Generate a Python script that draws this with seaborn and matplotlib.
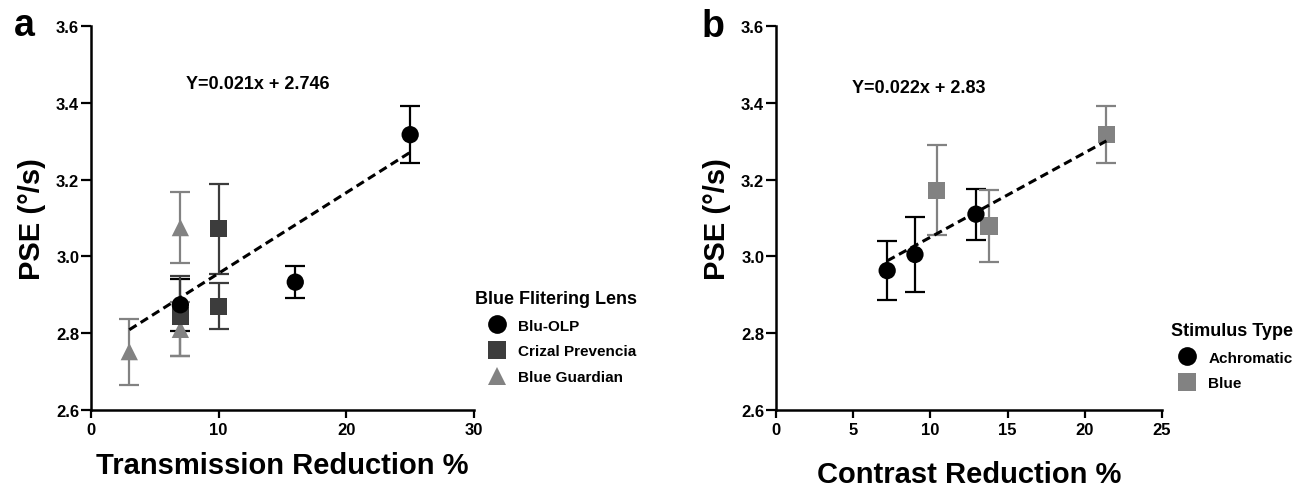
import numpy as np
import pandas as pd
import matplotlib
matplotlib.use("Agg")
import matplotlib.pyplot as plt
import seaborn as sns

# ---- panel a: transmission reduction by lens ----
olp_x = [7, 16, 25]
olp_y = [2.874, 2.933, 3.317]
olp_err = [0.068, 0.042, 0.074]

crizal_x = [7, 10, 10]
crizal_y = [2.845, 3.072, 2.870]
crizal_err = [0.105, 0.117, 0.060]

guardian_x = [3, 7, 7]
guardian_y = [2.752, 3.075, 2.810]
guardian_err = [0.086, 0.093, 0.070]

lens_names = ["Blu-OLP", "Crizal Prevencia", "Blue Guardian"]
fit_a = (0.021, 2.746)

# ---- panel b: contrast reduction by stimulus ----
achro_x = [7.2, 9.0, 12.95]
achro_y = [2.963, 3.005, 3.110]
achro_err = [0.077, 0.098, 0.066]

blue_x = [10.4, 13.8, 21.4]
blue_y = [3.172, 3.079, 3.317]
blue_err = [0.117, 0.093, 0.075]

stim_names = ["Achromatic", "Blue"]
fit_b = (0.022, 2.83)

y_ticks = [2.6, 2.8, 3.0, 3.2, 3.4, 3.6]


def make_df(groups, names):
    rows = []
    for (xs, ys, es), name in zip(groups, names):
        for x, y, e in zip(xs, ys, es):
            rows.append({"x": x, "y": y, "err": e, "group": name})
    return pd.DataFrame(rows)


df_a = make_df([(guardian_x, guardian_y, guardian_err),
                (crizal_x, crizal_y, crizal_err),
                (olp_x, olp_y, olp_err)],
               ["Blue Guardian", "Crizal Prevencia", "Blu-OLP"])
df_b = make_df([(blue_x, blue_y, blue_err),
                (achro_x, achro_y, achro_err)],
               ["Blue", "Achromatic"])

sns.set_style("ticks")
plt.rcParams["font.family"] = ["Liberation Sans", "DejaVu Sans"]
plt.rcParams["font.weight"] = "bold"
plt.rcParams["text.color"] = "black"
plt.rcParams["axes.labelcolor"] = "black"
plt.rcParams["xtick.color"] = "black"
plt.rcParams["ytick.color"] = "black"

colors_a = {"Blu-OLP": "#000000", "Crizal Prevencia": "#3c3c3c", "Blue Guardian": "#828282"}
markers_a = {"Blu-OLP": "o", "Crizal Prevencia": "s", "Blue Guardian": "^"}
colors_b = {"Achromatic": "#000000", "Blue": "#828282"}
markers_b = {"Achromatic": "o", "Blue": "s"}

fig = plt.figure(figsize=(13.09, 4.89), dpi=100)
ax_a = fig.add_axes([91 / 1309, 1 - 411 / 489, 383 / 1309, 384 / 489])
ax_b = fig.add_axes([776 / 1309, 1 - 411 / 489, 386 / 1309, 384 / 489])


def draw_panel(ax, df, colors, markers, order, fit, xlim, xticks, xlabel,
               eq_pos, leg_pos, leg_title, xpad):
    for name in order:
        sub = df[df["group"] == name]
        ax.errorbar(sub["x"], sub["y"], yerr=sub["err"], fmt="none",
                    ecolor=colors[name], elinewidth=1.6, capsize=7,
                    capthick=1.6, zorder=2)
    sns.scatterplot(data=df, x="x", y="y", hue="group", style="group",
                    hue_order=order, style_order=order, palette=colors,
                    markers=markers, s=155, linewidth=0, ax=ax, zorder=3)
    fx = np.array([df["x"].min(), df["x"].max()])
    sns.lineplot(x=fx, y=fit[0] * fx + fit[1], ax=ax, color="black",
                 linewidth=2.2, dashes=False, zorder=4)
    ax.lines[-1].set_dashes((2.8, 1.6))

    ax.set_xlim(*xlim)
    ax.set_ylim(2.6, 3.6)
    ax.set_xticks(xticks)
    ax.set_yticks(y_ticks)
    ax.set_yticklabels([f"{t:.1f}" for t in y_ticks])
    ax.tick_params(labelsize=12, width=1.6, color="black")
    ax.tick_params(axis="y", length=7.5, pad=1)
    ax.tick_params(axis="x", length=5.5, pad=3)
    for lab in ax.get_xticklabels() + ax.get_yticklabels():
        lab.set_fontweight("bold")
    for side in ["left", "bottom"]:
        ax.spines[side].set_linewidth(1.8)
        ax.spines[side].set_color("black")
    sns.despine(ax=ax)
    ax.set_xlabel(xlabel, fontsize=21, fontweight="bold", labelpad=xpad)
    ax.set_ylabel("PSE (°/s)", fontsize=21, fontweight="bold", labelpad=7)

    ax.text(eq_pos[0], eq_pos[1], f"Y={fit[0]}x + {fit[1]}", fontsize=13,
            fontweight="bold", ha="center", va="center")

    handles, labels = ax.get_legend_handles_labels()
    leg = ax.legend(handles, labels, title=leg_title, frameon=False,
                    loc="upper left", bbox_to_anchor=leg_pos,
                    bbox_transform=fig.transFigure, alignment="right",
                    prop={"size": 11, "weight": "bold"},
                    title_fontproperties={"size": 13, "weight": "bold"},
                    labelspacing=0.78, handletextpad=0.58, borderpad=0,
                    handlelength=1.6)
    for h in leg.legend_handles:
        h.set_markersize(13.5)


draw_panel(ax_a, df_a, colors_a, markers_a, lens_names, fit_a, (0, 30),
           [0, 10, 20, 30], "Transmission Reduction %", (13.05, 3.449),
           (467 / 1309, 1 - 283 / 489), "Blue Flitering Lens", 10)
draw_panel(ax_b, df_b, colors_b, markers_b, stim_names, fit_b, (0, 25),
           [0, 5, 10, 15, 20, 25], "Contrast Reduction %", (9.26, 3.44),
           (1163 / 1309, 1 - 315 / 489), "Stimulus Type", 17)

fig.text(14 / 1309, 1 - 36 / 489, "a", fontsize=27, fontweight="bold")
fig.text(702 / 1309, 1 - 37 / 489, "b", fontsize=27, fontweight="bold")

fig.savefig("out.png", dpi=100)
